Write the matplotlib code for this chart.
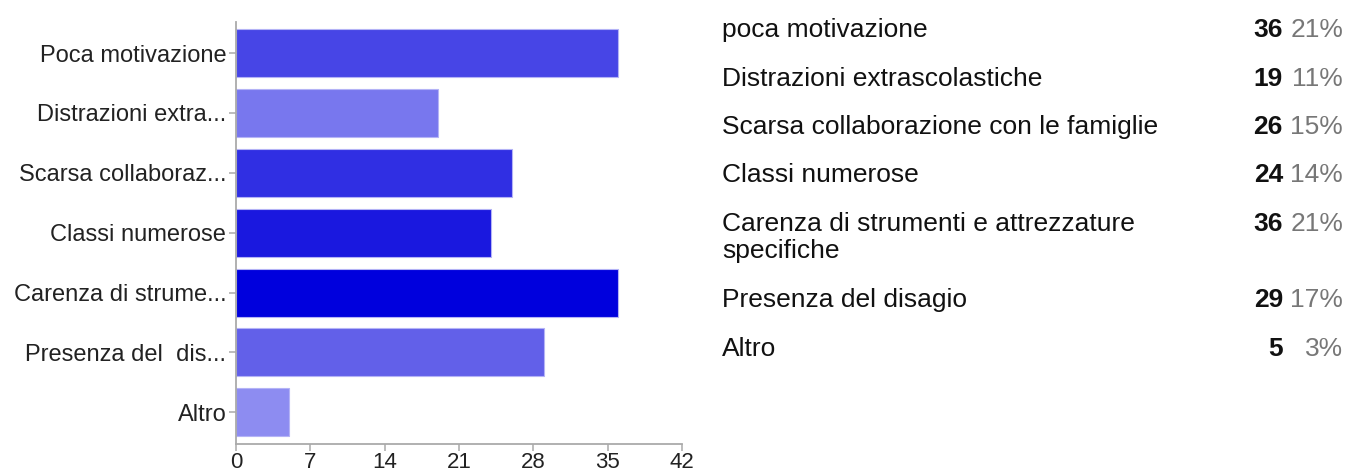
import textwrap

import matplotlib
matplotlib.use("Agg")
import matplotlib.pyplot as plt

plt.rcParams["font.family"] = ["Liberation Sans", "DejaVu Sans"]

# data
axis_labels = [
    "Poca motivazione",
    "Distrazioni extra...",
    "Scarsa collaboraz...",
    "Classi numerose",
    "Carenza di strume...",
    "Presenza del  dis...",
    "Altro",
]
table_labels = [
    "poca motivazione",
    "Distrazioni extrascolastiche",
    "Scarsa collaborazione con le famiglie",
    "Classi numerose",
    "Carenza di strumenti e attrezzature specifiche",
    "Presenza del disagio",
    "Altro",
]
counts = [36, 19, 26, 24, 36, 29, 5]
percents = [21, 11, 15, 14, 21, 17, 3]
bar_colors = ["#4745e6", "#7877ee", "#302fe3", "#1a18df", "#0000dd", "#6260e9", "#8d8cf1"]
x_ticks = [0, 7, 14, 21, 28, 35, 42]

W, H = 1349, 475
fig = plt.figure(figsize=(W / 100, H / 100), dpi=100)


def px(x, y):
    """pixel coords (top-left origin) -> figure fraction"""
    return x / W, 1 - y / H


# bar chart on the left
ax = fig.add_axes([236 / W, 31 / H, 446 / W, 422 / H])
pos = list(range(len(counts)))
ax.barh(pos, counts, height=0.8, color=bar_colors, edgecolor="#b4b3f6", linewidth=0.8)
ax.set_ylim(6.53, -0.52)
ax.set_xlim(0, 42)
ax.set_yticks(pos)
ax.set_yticklabels(axis_labels, fontsize=17, color="#222222")
ax.set_xticks(x_ticks)
ax.set_xticklabels([str(t) for t in x_ticks], fontsize=16, color="#222222")
for side in ("top", "right"):
    ax.spines[side].set_visible(False)
for side in ("left", "bottom"):
    ax.spines[side].set_color("#aaaaaa")
    ax.spines[side].set_linewidth(1.3)
ax.tick_params(axis="both", colors="#aaaaaa", length=5, width=1.1, labelcolor="#222222")
ax.tick_params(axis="y", pad=2)
ax.tick_params(axis="x", pad=1)

# summary table on the right
row_pitch = 48.5
line_h = 27.5
y = 18
for label, n, p in zip(table_labels, counts, percents):
    lines = textwrap.wrap(label, 40)
    fig.text(*px(722, y), "\n".join(lines), fontsize=19, va="top", ha="left",
             color="#111111", linespacing=1.15)
    fig.text(*px(1283, y), str(n), fontsize=19, fontweight="bold", va="top",
             ha="right", color="#111111")
    fig.text(*px(1343, y), f"{p}%", fontsize=19, va="top", ha="right", color="#777777")
    y += row_pitch + line_h * (len(lines) - 1)

fig.savefig("out.png", dpi=100)
